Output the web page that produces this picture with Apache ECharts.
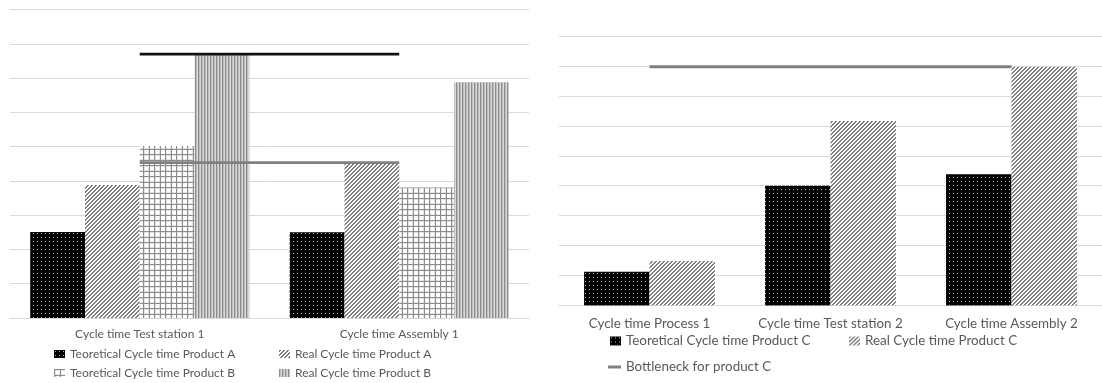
<!DOCTYPE html>
<html>
<head>
<meta charset="utf-8">
<script src="https://cdn.jsdelivr.net/npm/echarts@6/dist/echarts.min.js"></script>
<style>
  html, body { margin: 0; padding: 0; background: #ffffff; }
  #chart { width: 1102px; height: 383px; }
</style>
</head>
<body>
<div id="chart"></div>
<script>
// Products A and B: test station 1 and assembly 1
const leftCategories = ['Cycle time Test station 1', 'Cycle time Assembly 1'];
const theoA = [25.1, 25.0];
const realA = [38.8, 45.3];
const theoB = [50.2, 38.1];
const realB = [77.0, 68.8];
const bottleneckB = [77.0, 77.0];
const bottleneckA = [45.3, 45.3];

// Product C: process 1, test station 2 and assembly 2
const rightCategories = ['Cycle time Process 1', 'Cycle time Test station 2', 'Cycle time Assembly 2'];
const theoC = [11.3, 40.0, 43.8];
const realC = [14.9, 61.6, 79.7];
const bottleneckC = [79.7, 79.7, 79.7];

const FONT = 'Lato';
const TEXT = '#595959';
const GRID_LINE = '#d9d9d9';

// Small tiled canvases used as bar fills
function tile(w, h, paint) {
  const c = document.createElement('canvas');
  c.width = w; c.height = h;
  const g = c.getContext('2d');
  for (let y = 0; y < h; y++) {
    for (let x = 0; x < w; x++) {
      const col = paint(x, y);
      if (col) { g.fillStyle = col; g.fillRect(x, y, 1, 1); }
    }
  }
  return { image: c, repeat: 'repeat' };
}
const dotted = tile(4, 4, (x, y) => (x === 1 && y === 1) ? '#b8b8b8' : '#000000');
const diagonal = tile(4, 4, (x, y) => ((x + y) % 4 < 2) ? '#808080' : '#ffffff');
// square lattice, roughly 5.5px pitch
const gridFill = tile(11, 11, (x, y) => {
  const onX = (x === 0 || x === 6), onY = (y === 0 || y === 6);
  if (onX || onY) return '#8c8c8c';
  const nearX = (x === 1 || x === 5), nearY = (y === 1 || y === 5);
  if (nearX || nearY) return '#e4e4e4';
  return '#ffffff';
});
const vertical = tile(3, 1, (x) => ['#8c8c8c', '#bdbdbd', '#dadada'][x]);

function valueAxis(gridIndex) {
  return {
    type: 'value', gridIndex, min: 0, max: 90, interval: 10,
    axisLabel: { show: false }, axisLine: { show: false }, axisTick: { show: false },
    splitLine: { lineStyle: { color: GRID_LINE, width: 1 } }
  };
}
function catAxis(gridIndex, data, fontSize, margin) {
  return {
    type: 'category', gridIndex, data,
    axisLine: { lineStyle: { color: GRID_LINE, width: 1 } },
    axisTick: { show: false },
    axisLabel: { color: TEXT, fontFamily: FONT, fontSize, margin, interval: 0 }
  };
}
function legendItem(name, left, top, fs, w, h, icon) {
  return {
    data: [{ name, icon: icon || 'rect' }],
    left, top, padding: 0, itemWidth: w, itemHeight: h,
    textStyle: { color: TEXT, fontFamily: FONT, fontSize: fs, lineHeight: 16 },
    selectedMode: false
  };
}

const chart = echarts.init(document.getElementById('chart'), null, { renderer: 'canvas' });
chart.setOption({
  animation: false,
  backgroundColor: '#ffffff',
  grid: [
    { left: 10, top: 9.5, width: 519, height: 308.5 },
    { left: 559, top: 36, width: 546, height: 269.5 }
  ],
  xAxis: [
    catAxis(0, leftCategories, 12, 10),
    catAxis(1, rightCategories, 13.4, 12)
  ],
  yAxis: [valueAxis(0), valueAxis(1)],
  legend: [
    legendItem('Teoretical Cycle time Product A', 54, 346, 12, 11, 8),
    legendItem('Real Cycle time Product A', 279, 346, 12, 11, 8),
    legendItem('Teoretical Cycle time Product B', 54, 365, 12, 11, 8),
    legendItem('Real Cycle time Product B', 279, 365, 12, 11, 8),
    legendItem('Teoretical Cycle time Product C', 610, 333, 13.4, 11, 9),
    legendItem('Real Cycle time Product C', 849, 333, 13.4, 11, 9),
    legendItem('Bottleneck for product C', 608, 359, 13.4, 13, 3)
  ],
  series: [
    { name: 'Teoretical Cycle time Product A', type: 'bar', xAxisIndex: 0, yAxisIndex: 0, data: theoA, itemStyle: { color: dotted }, barGap: '0%' },
    { name: 'Real Cycle time Product A', type: 'bar', xAxisIndex: 0, yAxisIndex: 0, data: realA, itemStyle: { color: diagonal }, barGap: '0%' },
    { name: 'Teoretical Cycle time Product B', type: 'bar', xAxisIndex: 0, yAxisIndex: 0, data: theoB, itemStyle: { color: gridFill }, barGap: '0%' },
    { name: 'Real Cycle time Product B', type: 'bar', xAxisIndex: 0, yAxisIndex: 0, data: realB, itemStyle: { color: vertical }, barGap: '0%', barCategoryGap: '15.6%' },
    { name: 'Bottleneck for product B', type: 'line', xAxisIndex: 0, yAxisIndex: 0, data: bottleneckB, symbol: 'none', lineStyle: { color: '#111111', width: 2.7 }, itemStyle: { color: '#111111' }, z: 5 },
    { name: 'Bottleneck for product A', type: 'line', xAxisIndex: 0, yAxisIndex: 0, data: bottleneckA, symbol: 'none', lineStyle: { color: '#808080', width: 2.7 }, itemStyle: { color: '#808080' }, z: 5 },
    { name: 'Teoretical Cycle time Product C', type: 'bar', xAxisIndex: 1, yAxisIndex: 1, data: theoC, itemStyle: { color: dotted }, barGap: '0%' },
    { name: 'Real Cycle time Product C', type: 'bar', xAxisIndex: 1, yAxisIndex: 1, data: realC, itemStyle: { color: diagonal }, barGap: '0%', barCategoryGap: '27.7%' },
    { name: 'Bottleneck for product C', type: 'line', xAxisIndex: 1, yAxisIndex: 1, data: bottleneckC, symbol: 'none', lineStyle: { color: '#808080', width: 3 }, itemStyle: { color: '#808080' }, z: 5 }
  ]
});
</script>
</body>
</html>
